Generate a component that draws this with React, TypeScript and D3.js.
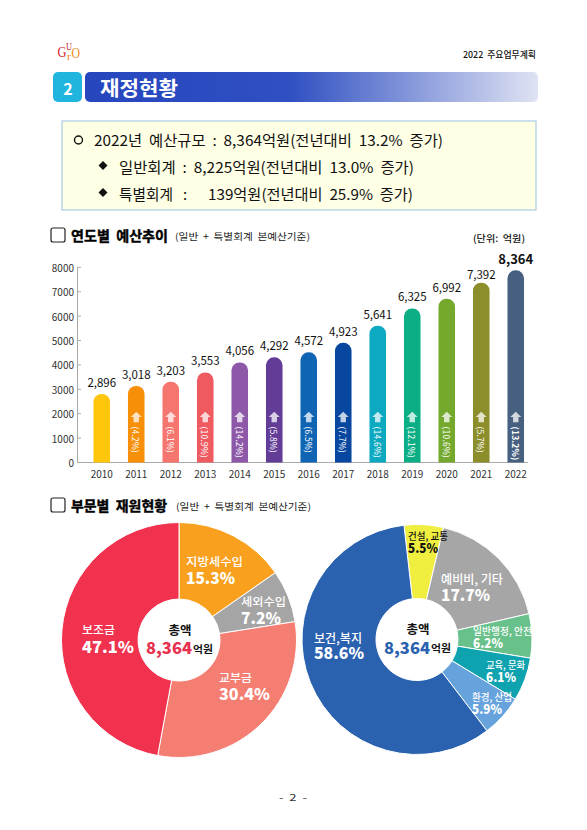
import React from 'react';
import * as d3 from 'd3';

const years = ['2010','2011','2012','2013','2014','2015','2016','2017','2018','2019','2020','2021','2022'];
// bar heights as drawn in the picture, they run a little off the printed labels
const barHeights = [2810,3140,3310,3690,4100,4310,4515,4905,5605,6315,6710,7366,7876];
const budgetLabels = ['2,896','3,018','3,203','3,553','4,056','4,292','4,572','4,923','5,641','6,325','6,992','7,392','8,364'];
const growth = ['','(4.2%)','(6.1%)','(10.9%)','(14.2%)','(5.8%)','(6.5%)','(7.7%)','(14.6%)','(12.1%)','(10.6%)','(5.7%)','(13.2%)'];
const barColors = ['#FFC60B','#F78F08','#F5766F','#EE5A5F','#8E58A8','#633C97','#0F64B4','#07479F','#0CA9C0','#0BAE85','#74A92E','#8B8E2B','#47607F'];

const revenueNames = ['지방세수입','세외수입','교부금','보조금'];
const revenueShare = [15.3,7.2,30.4,47.1];
const revenueColors = ['#F9A11F','#A5A5A5','#F47E72','#F0324F'];

const sectorNames = ['건설, 교통','예비비, 기타','일반행정, 안전','교육, 문화','환경, 산업','보건,복지'];
const sectorShare = [5.5,17.7,6.2,6.1,5.9,58.6];
const sectorColors = ['#F0EE3F','#A6A6A6','#68C08A','#0FA3AF','#66A3DC','#2A62B0'];

const FONT = '"Noto Sans CJK KR", "Noto Sans", sans-serif';

const y = d3.scaleLinear().domain([0, 8000]).range([462.5, 267.3]);
const x = d3.scaleBand<string>().domain(years).range([84.5, 533]).paddingInner(0.52).paddingOuter(0.26);

// rounded top, square bottom
const barPath = (x0: number, w: number, top: number, bottom: number) => {
  const r = Math.min(8, w / 2);
  const p = d3.path();
  p.moveTo(x0, bottom);
  p.lineTo(x0, top + r);
  p.arcTo(x0, top, x0 + r, top, r);
  p.lineTo(x0 + w - r, top);
  p.arcTo(x0 + w, top, x0 + w, top + r, r);
  p.lineTo(x0 + w, bottom);
  p.closePath();
  return p.toString();
};

const Txt = ({ x, y, size, weight = 400, fill = '#111', anchor = 'start', children, len, heavy }: any) => (
  <text x={x} y={y} fontSize={size} fontWeight={weight} fill={fill} textAnchor={anchor}
    dominantBaseline="central" fontFamily={FONT} style={{ whiteSpace: 'pre' }}
    {...(heavy ? { stroke: fill, strokeWidth: heavy } : {})}
    {...(len ? { textLength: len, lengthAdjust: 'spacingAndGlyphs' } : {})}>
    {children}
  </text>
);

const SectionTitle = ({ top, title, titleLen, subX }: any) => (
  <g>
    <rect x={51} y={top - 7} width={14} height={14} rx={2} fill="#fff" stroke="#222" strokeWidth={1.2} />
    <Txt x={71} y={top} size={14} weight={700} fill="#000" len={titleLen} heavy={0.4}>{title}</Txt>
    <Txt x={subX} y={top + 1} size={9.5} fill="#222" len={135}>(일반  +  특별회계  본예산기준)</Txt>
  </g>
);

interface DonutProps {
  cx: number; cy: number; r: number; startDeg: number;
  names: string[]; values: number[]; colors: string[];
  offsets: number[][]; sizes: number[][]; widths: number[][]; darkFirst?: boolean;
  totalColor: string;
}

const Donut = ({ cx, cy, r, startDeg, names, values, colors, offsets, sizes, widths, darkFirst, totalColor }: DonutProps) => {
  const start = startDeg * Math.PI / 180;
  const arcs = d3.pie<number>().sort(null).startAngle(start).endAngle(start + 2 * Math.PI)(values);
  const arc = d3.arc<d3.PieArcDatum<number>>().innerRadius(41).outerRadius(r);
  return (
    <g transform={`translate(${cx},${cy})`}>
      {arcs.map((a, i) => <path key={i} d={arc(a) as string} fill={colors[i]} stroke="#fff" strokeWidth={1} />)}
      {arcs.map((a, i) => {
        const col = darkFirst && i === 0 ? '#111' : '#fff';
        return (
          <g key={i}>
            <Txt x={offsets[i][0]} y={offsets[i][1]} size={sizes[i][0]} weight={500} fill={col} len={widths[i][0]}>{names[i]}</Txt>
            <Txt x={offsets[i][0]} y={offsets[i][2]} size={sizes[i][1]} weight={900} fill={col} len={widths[i][1]}>{values[i].toFixed(1)}%</Txt>
          </g>
        );
      })}
      <Txt x={1} y={-11} size={12.5} weight={700} fill="#111" anchor="middle">총액</Txt>
      <Txt x={-33} y={7} size={16} weight={900} fill={totalColor} len={46}>8,364</Txt>
      <Txt x={14} y={8} size={10} weight={700} fill="#111" len={20}>억원</Txt>
    </g>
  );
};

export default function App() {
  return (
    <svg width={587} height={830} viewBox="0 0 587 830" style={{ position: 'absolute', left: 0, top: 0, background: '#fff' }}>
      <defs>
        <linearGradient id="banner" x1="0" x2="1" y1="0" y2="0">
          <stop offset="0" stopColor="#2646BE" />
          <stop offset="0.45" stopColor="#2F4FC2" />
          <stop offset="1" stopColor="#DFE3F3" />
        </linearGradient>
      </defs>

      {/* logo */}
      <g fontFamily='"Liberation Serif", serif'>
        <text x={57.5} y={57} fontSize={15} fill="#D3232A" textLength={9} lengthAdjust="spacingAndGlyphs">G</text>
        <text x={66} y={50} fontSize={10} fill="#C8232A" textLength={6} lengthAdjust="spacingAndGlyphs">U</text>
        <text x={67} y={60} fontSize={11} fill="#EF8A1D" textLength={4} lengthAdjust="spacingAndGlyphs">r</text>
        <text x={71.5} y={58} fontSize={14} fill="#EF8A1D" textLength={8.5} lengthAdjust="spacingAndGlyphs">O</text>
      </g>
      <Txt x={463} y={54} size={9} weight={500} fill="#111" len={73}>2022  주요업무계획</Txt>

      {/* banner */}
      <rect x={53} y={72} width={29} height={30} rx={5} fill="#1FB5DE" />
      <text x={68} y={87.5} fontSize={16} fontWeight={700} fill="#fff" textAnchor="middle" dominantBaseline="central" fontFamily={FONT}>2</text>
      <rect x={85} y={72} width={453} height={30} rx={5} fill="url(#banner)" />
      <Txt x={100} y={87} size={20} weight={700} fill="#fff" len={78}>재정현황</Txt>

      {/* summary box */}
      <rect x={62} y={121} width={474} height={89} fill="#FFFFE5" stroke="#A8CCE4" strokeWidth={1.2} />
      <circle cx={78.5} cy={140} r={4} fill="none" stroke="#111" strokeWidth={1.4} />
      <Txt x={94} y={139} size={15} len={349}>2022년  예산규모  :  8,364억원(전년대비  13.2%  증가)</Txt>
      <path d="M103 161l4.5 4.5-4.5 4.5-4.5-4.5z" fill="#111" />
      <Txt x={119} y={166} size={15} len={295}>일반회계  :  8,225억원(전년대비  13.0%  증가)</Txt>
      <path d="M103 188l4.5 4.5-4.5 4.5-4.5-4.5z" fill="#111" />
      <Txt x={119} y={193} size={15} len={54}>특별회계</Txt>
      <Txt x={183} y={193} size={15}>:</Txt>
      <Txt x={208} y={193} size={15} len={205}>139억원(전년대비  25.9%  증가)</Txt>

      <SectionTitle top={235} title="연도별  예산추이" titleLen={97} subX={175} />
      <Txt x={473} y={238} size={9.5} weight={500} fill="#111" len={52}>(단위:  억원)</Txt>

      {/* axis */}
      <line x1={77.5} x2={77.5} y1={y(8000)} y2={y(0)} stroke="#aaa" />
      <line x1={77.5} x2={528} y1={y(0)} y2={y(0)} stroke="#aaa" />
      {y.ticks(8).map(t => (
        <g key={t}>
          <line x1={77.5} x2={81} y1={y(t)} y2={y(t)} stroke="#aaa" />
          <Txt x={74} y={y(t)} size={10} fill="#333" anchor="end">{t}</Txt>
        </g>
      ))}

      {/* bars */}
      {years.map((yr, i) => {
        const bx = x(yr) as number;
        const w = x.bandwidth();
        const mid = bx + w / 2;
        const top = y(barHeights[i]);
        const last = i === years.length - 1;
        return (
          <g key={yr}>
            <path d={barPath(bx, w, top, y(0))} fill={barColors[i]} />
            <Txt x={mid} y={top - (i === 11 ? 9 : 12)} size={last ? 13 : 11.5} weight={last ? 700 : 400} fill="#111" anchor="middle">{budgetLabels[i]}</Txt>
            <Txt x={mid} y={473} size={10} fill="#333" anchor="middle">{yr}</Txt>
            {growth[i] && (
              <g>
                <path transform={`translate(${mid},417)`} d="M0-5.3 L5.5 0 L2.7 0 L2.7 5.3 L-2.7 5.3 L-2.7 0 L-5.5 0 Z" fill="#fff" fillOpacity={0.75} />
                <text transform={`translate(${mid},426.5) rotate(90)`} fontSize={8.5} letterSpacing={0.2} fontWeight={last ? 700 : 400} fill="#fff" dominantBaseline="central" fontFamily={FONT}>{growth[i]}</text>
              </g>
            )}
          </g>
        );
      })}

      <SectionTitle top={505} title="부문별  재원현황" titleLen={96} subX={176} />

      <Donut cx={179} cy={640} r={117.5} startDeg={0}
        names={revenueNames} values={revenueShare} colors={revenueColors}
        offsets={[[7,-79,-63],[62,-39,-23],[40,37,53],[-97,-11,6]]}
        sizes={[[11.5,16],[11,16],[11,16],[11,16]]}
        widths={[[57,49],[45,40],[33,51],[33,52]]}
        totalColor="#E8304F" />

      <Donut cx={417} cy={639.5} r={115} startDeg={-6.5}
        names={sectorNames} values={sectorShare} colors={sectorColors}
        offsets={[[-9,-104.5,-92.5],[24,-61.5,-45.5],[56,-9.5,2.5],[69,24.5,36.5],[55,56.5,68.5],[-103,-2.5,12.5]]}
        sizes={[[10,13],[12,16],[10,13],[10,13],[10,13],[12,16]]}
        widths={[[40,30],[62,49],[59,30],[39,30],[40,30],[48,50]]}
        darkFirst totalColor="#2A62B0" />

      <Txt x={293} y={797} size={9.5} fill="#333" anchor="middle" len={28}>-  2  -</Txt>
    </svg>
  );
}
